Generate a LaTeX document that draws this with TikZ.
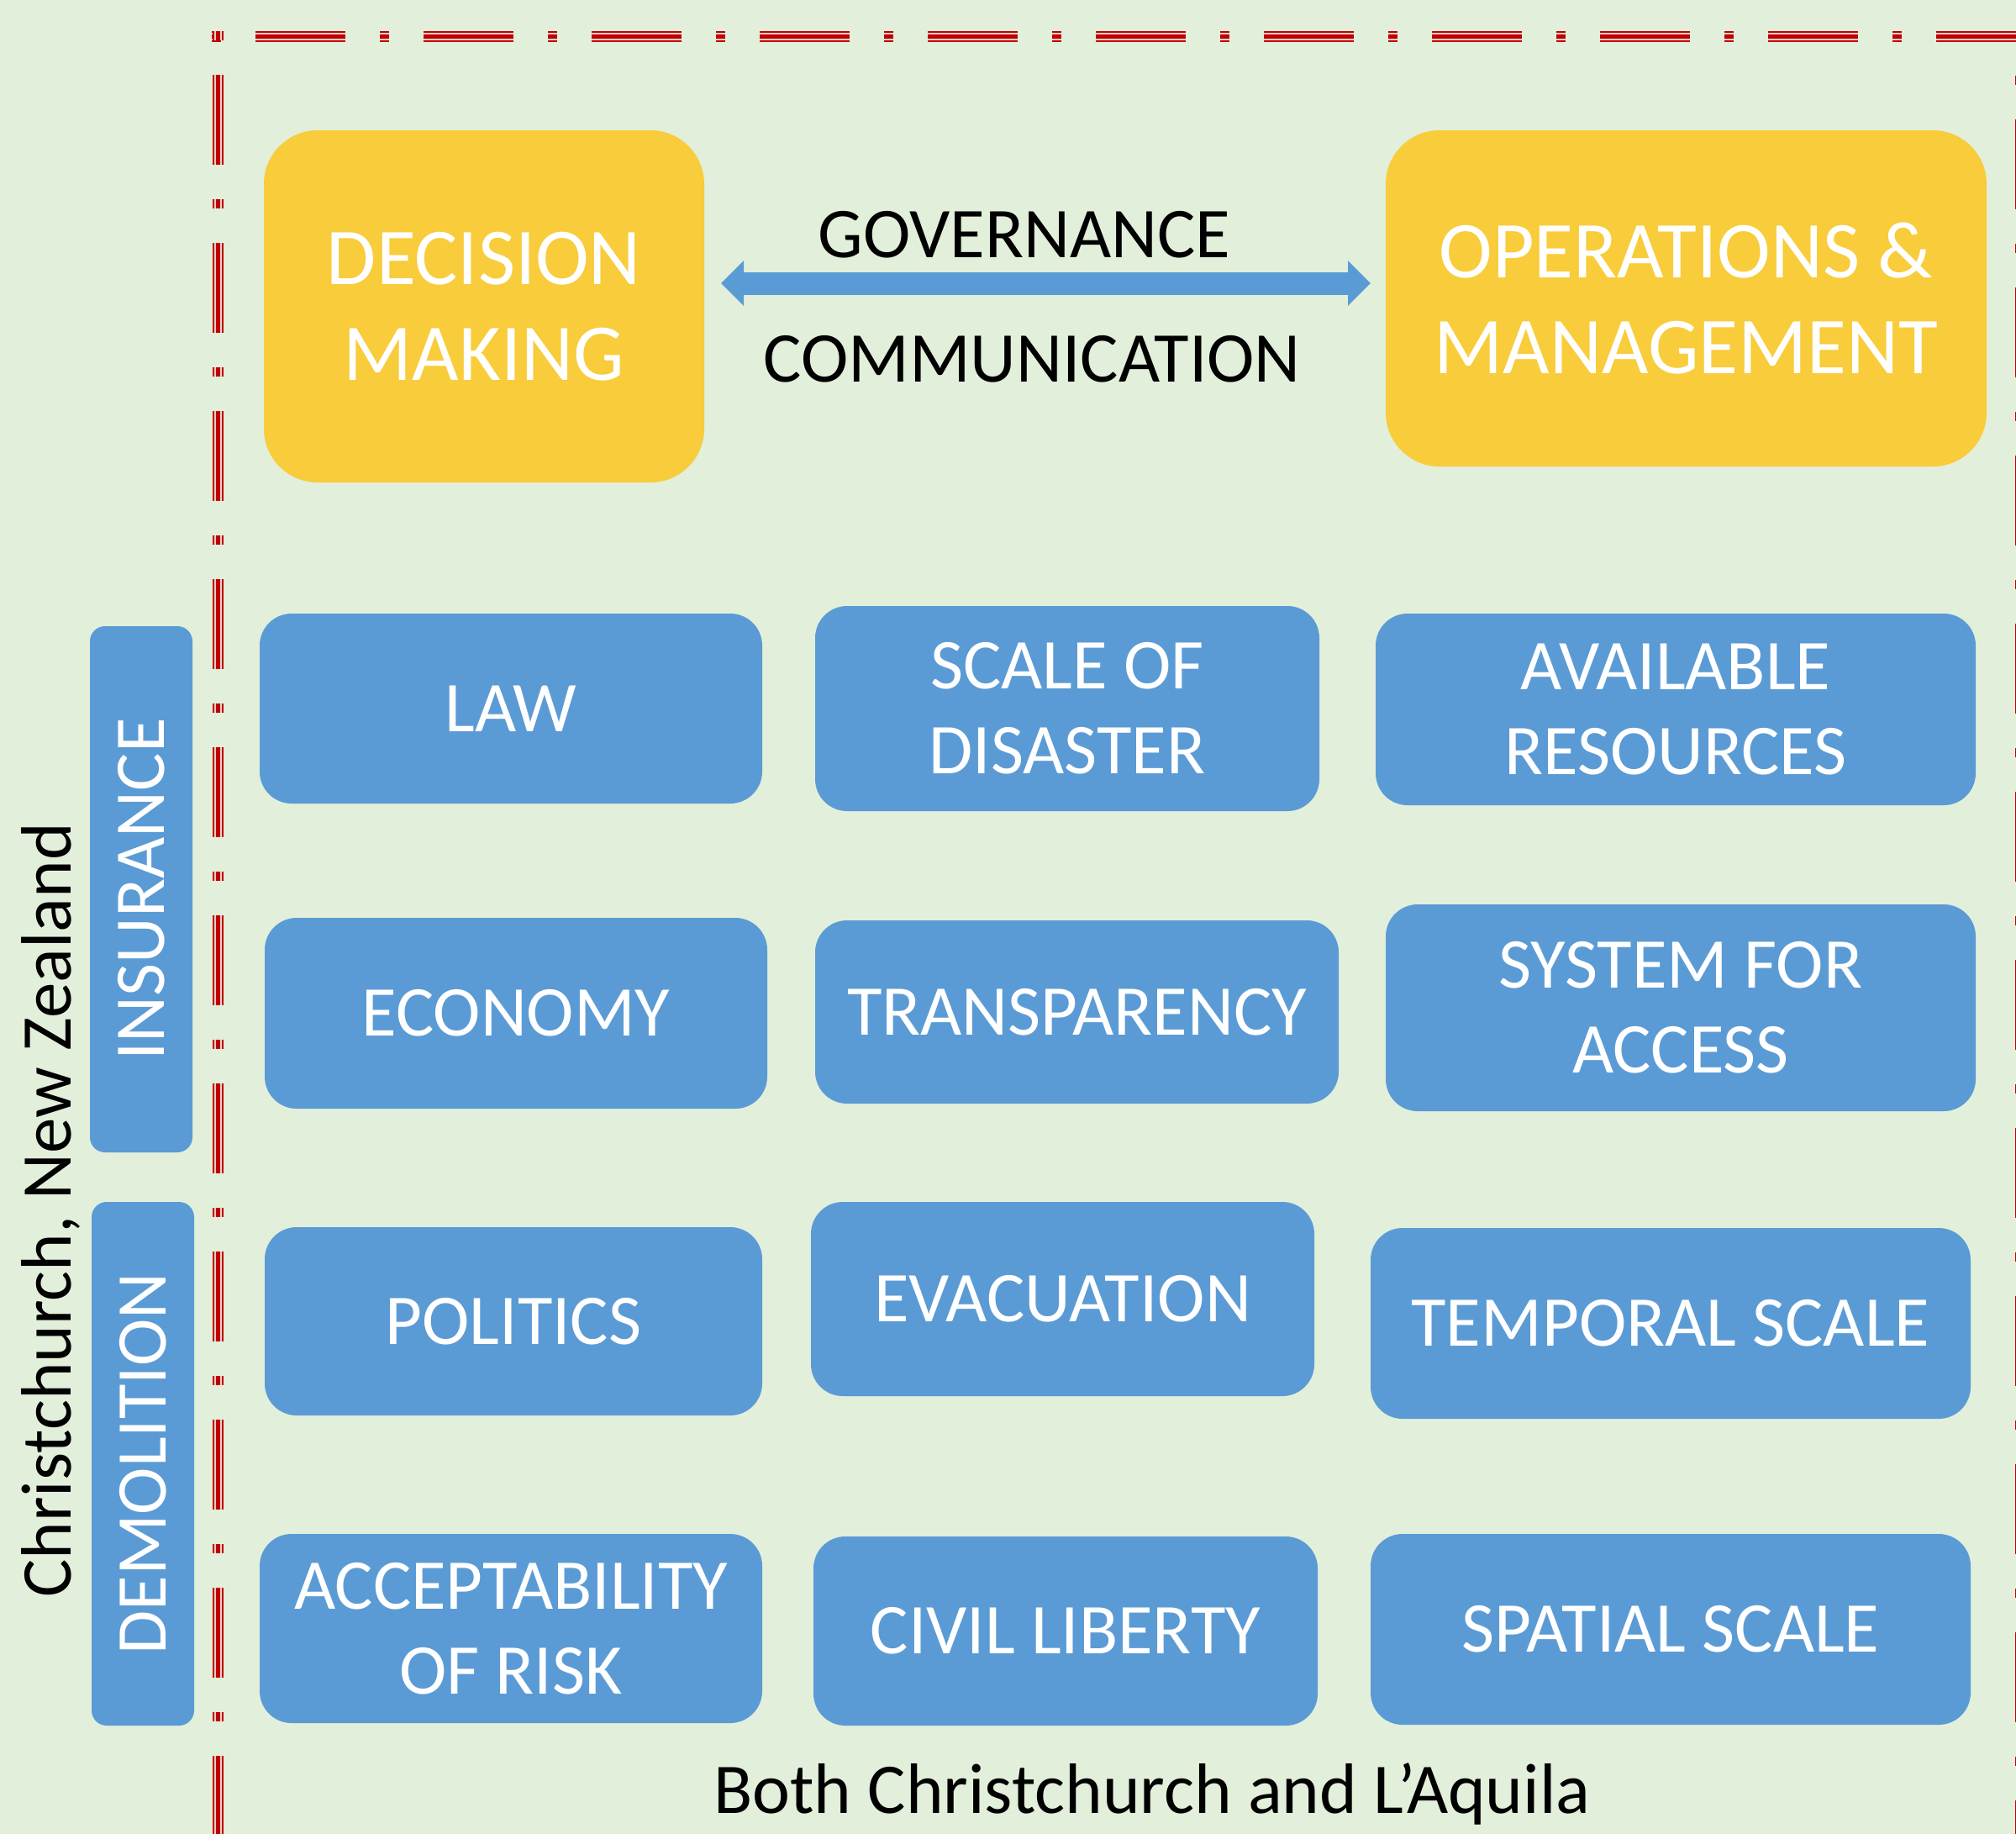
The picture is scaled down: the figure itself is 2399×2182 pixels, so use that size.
\documentclass[tikz,border=0pt]{standalone}
\usepackage{fontspec}
\setmainfont{Carlito}
\usetikzlibrary{arrows.meta}
\definecolor{bg}{HTML}{E2EFDA}
\definecolor{gold}{HTML}{F8CC3A}
\definecolor{bluebox}{HTML}{5B9BD5}
\definecolor{framered}{HTML}{C00000}
\definecolor{framegap}{RGB}{232,206,198}
\tikzset{
  bluestep/.style={fill=bluebox, rounded corners=38pt, inner sep=0pt, text=white, align=center,
     font=\fontsize{85}{101}\selectfont},
  goldbox/.style={fill=gold, rounded corners=64pt, inner sep=0pt, text=white, align=center,
     font=\fontsize{96}{114}\selectfont},
  sidebar/.style={fill=bluebox, rounded corners=18pt, inner sep=0pt, text=white, rotate=90,
     font=\fontsize{85}{100}\selectfont},
  plaintext/.style={inner sep=0pt, text=black, anchor=base},
  framedash/.style={dash pattern=on 11pt off 41pt on 107pt off 41pt, line cap=butt},
}
\newcommand{\framepath}[2]{%
  \draw[framedash, framered, line width=13pt] (#1) -- (#2);
  \draw[framedash, framegap, line width=9pt] (#1) -- (#2);
  \draw[framedash, framered, line width=5pt] (#1) -- (#2);
}
\begin{document}
\begin{tikzpicture}[x=1pt,y=-1pt]
\useasboundingbox (0,0) rectangle (2399,2182);
\clip (0,0) rectangle (2399,2182);
\fill[bg] (0,0) rectangle (2399,2182);
% frame
\coordinate (tl) at (252,43);
\coordinate (tr) at (2420,43);
\coordinate (lt) at (259,37);
\coordinate (lb) at (259,2200);
\coordinate (rt) at (2404,90);
\coordinate (rb) at (2404,2200);
\framepath{tl}{tr}
\framepath{lt}{lb}
\framepath{rt}{rb}
% top boxes
\node[goldbox, minimum width=524pt, minimum height=419pt] (dm) at (576,364.5) {DECISION\\MAKING};
\node[goldbox, minimum width=715pt, minimum height=400pt] (om) at (2006.5,355) {OPERATIONS \&\\MANAGEMENT};
\coordinate (arrL) at (858,337);
\coordinate (arrR) at (1631,337);
\draw[bluebox, line width=27pt, {Triangle[length=27pt,width=52pt]}-{Triangle[length=27pt,width=52pt]}] (arrL) -- (arrR);
\node[plaintext, font=\fontsize{85}{100}\selectfont] (gov) at (1219,306) {GOVERNANCE};
\node[plaintext, font=\fontsize{85}{100}\selectfont] (comm) at (1228,454) {COMMUNICATION};
% grid
\node[bluestep, minimum width=598pt, minimum height=226pt] (law) at (608,843) {LAW};
\node[bluestep, minimum width=600pt, minimum height=244pt] (scale) at (1270,843) {SCALE OF\\DISASTER};
\node[bluestep, minimum width=714pt, minimum height=228pt] (avail) at (1994,844) {AVAILABLE\\RESOURCES};
\node[bluestep, minimum width=598pt, minimum height=227pt] (econ) at (614,1205.5) {ECONOMY};
\node[bluestep, minimum width=623pt, minimum height=218pt] (trans) at (1281.5,1204) {TRANSPARENCY};
\node[bluestep, minimum width=702pt, minimum height=246pt] (sys) at (2000,1199) {SYSTEM FOR\\ACCESS};
\node[bluestep, minimum width=592pt, minimum height=224pt] (pol) at (611,1572) {POLITICS};
\node[bluestep, minimum width=599pt, minimum height=231pt] (evac) at (1264.5,1545.5) {EVACUATION};
\node[bluestep, minimum width=714pt, minimum height=227pt] (temp) at (1988,1574.5) {TEMPORAL SCALE};
\node[bluestep, minimum width=598pt, minimum height=225pt] (acc) at (608,1937.5) {ACCEPTABILITY\\OF RISK};
\node[bluestep, minimum width=600pt, minimum height=225pt] (civil) at (1268,1940.5) {CIVIL LIBERTY};
\node[bluestep, minimum width=714pt, minimum height=227pt] (spat) at (1988,1938.5) {SPATIAL SCALE};
% side bars
\node[sidebar, minimum width=626pt, minimum height=122pt] (ins) at (168,1058) {INSURANCE};
\node[sidebar, minimum width=623pt, minimum height=122pt] (dem) at (170,1741.5) {DEMOLITION};
% labels
\node[inner sep=0pt, rotate=90, font=\fontsize{85}{100}\selectfont] (chch) at (60,1440) {Christchurch, New Zealand};
\node[plaintext, font=\fontsize{85}{100}\selectfont] (both) at (1371,2157) {Both Christchurch and L’Aquila};
\end{tikzpicture}
\end{document}
